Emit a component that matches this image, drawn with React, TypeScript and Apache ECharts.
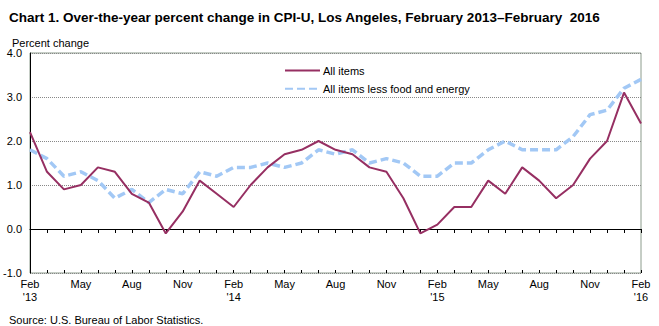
import React, { useEffect, useRef } from "react";
import * as echarts from "echarts";

const months = [
  "Feb\n'13", "Mar", "Apr", "May", "Jun", "Jul", "Aug", "Sep", "Oct", "Nov", "Dec", "Jan",
  "Feb\n'14", "Mar", "Apr", "May", "Jun", "Jul", "Aug", "Sep", "Oct", "Nov", "Dec", "Jan",
  "Feb\n'15", "Mar", "Apr", "May", "Jun", "Jul", "Aug", "Sep", "Oct", "Nov", "Dec", "Jan",
  "Feb\n'16",
];

const allItems = [
  2.2, 1.3, 0.9, 1.0, 1.4, 1.3, 0.8, 0.6, -0.1, 0.4, 1.1, 0.8,
  0.5, 1.0, 1.4, 1.7, 1.8, 2.0, 1.8, 1.7, 1.4, 1.3, 0.7, -0.1,
  0.1, 0.5, 0.5, 1.1, 0.8, 1.4, 1.1, 0.7, 1.0, 1.6, 2.0, 3.1,
  2.4,
];

const coreItems = [
  1.8, 1.6, 1.2, 1.3, 1.1, 0.7, 0.9, 0.6, 0.9, 0.8, 1.3, 1.2,
  1.4, 1.4, 1.5, 1.4, 1.5, 1.8, 1.7, 1.8, 1.5, 1.6, 1.5, 1.2,
  1.2, 1.5, 1.5, 1.8, 2.0, 1.8, 1.8, 1.8, 2.1, 2.6, 2.7, 3.2,
  3.4,
];

const FONT = "'Liberation Sans', Arial, sans-serif";

export default function App() {
  const ref = useRef<HTMLDivElement>(null);
  useEffect(() => {
    if (!ref.current) return;
    const chart = echarts.init(ref.current, undefined, { renderer: "svg" });
    chart.setOption({
      animation: false,
      backgroundColor: "#ffffff",
      textStyle: { fontFamily: FONT },
      title: [
        {
          text: "Chart 1. Over-the-year percent change in CPI-U, Los Angeles, February 2013\u2013February  2016",
          left: 4,
          top: 5,
          textStyle: { fontSize: 13.5, fontWeight: "bold", color: "#000", fontFamily: FONT },
        },
        {
          text: "Percent change",
          left: 7,
          top: 32,
          textStyle: { fontSize: 11, fontWeight: "normal", color: "#000", fontFamily: FONT },
        },
        {
          text: "Source: U.S. Bureau of Labor Statistics.",
          left: 4,
          top: 309,
          textStyle: { fontSize: 11, fontWeight: "normal", color: "#000", fontFamily: FONT },
        },
      ],
      legend: {
        orient: "vertical",
        left: 279,
        top: 60,
        itemWidth: 35,
        itemHeight: 14,
        itemGap: 7,
        itemStyle: { opacity: 0, borderWidth: 0 },
        textStyle: { fontSize: 11, color: "#000", fontFamily: FONT, padding: [0, 0, 0, -2] },
        data: ["All items", "All items less food and energy"],
      },
      grid: {
        left: 30,
        right: 18,
        top: 53,
        bottom: 53,
        show: true,
        borderColor: "#8c9c8c",
        borderWidth: 1,
      },
      xAxis: [
        {
          type: "category",
          data: months,
          boundaryGap: false,
          axisLine: { lineStyle: { color: "#000", width: 1 } },
          axisTick: { show: true, interval: 0, length: 4, lineStyle: { color: "#000" } },
          axisLabel: {
            interval: 2,
            fontSize: 11,
            color: "#000",
            fontFamily: FONT,
            lineHeight: 13,
            margin: 4,
          },
          splitLine: { show: false },
        },
        {
          type: "category",
          data: months,
          boundaryGap: false,
          position: "bottom",
          axisLine: { show: false },
          axisTick: { show: true, inside: true, interval: 0, length: 3, lineStyle: { color: "#000" } },
          axisLabel: { show: false },
          splitLine: { show: false },
        },
      ],
      yAxis: {
        type: "value",
        min: -1,
        max: 4,
        interval: 1,
        axisLine: { show: true, lineStyle: { color: "#000", width: 1 } },
        axisTick: { show: false },
        axisLabel: {
          formatter: (v: number) => v.toFixed(1),
          fontSize: 11,
          color: "#000",
          fontFamily: FONT,
          margin: 8,
        },
        splitLine: { show: true, lineStyle: { color: "#888888", type: "dotted", width: 1 } },
      },
      series: [
        {
          name: "All items less food and energy",
          type: "line",
          data: coreItems,
          symbol: "none",
          lineStyle: { color: "#a2c8f5", width: 3.5, type: [8, 4] },
          itemStyle: { color: "#a2c8f5" },
        },
        {
          name: "All items",
          type: "line",
          data: allItems,
          symbol: "none",
          lineStyle: { color: "#962f62", width: 2 },
          itemStyle: { color: "#962f62" },
        },
      ],
    });
    return () => chart.dispose();
  }, []);
  return <div ref={ref} style={{ width: 659, height: 326, position: "absolute", left: 0, top: 0 }} />;
}
